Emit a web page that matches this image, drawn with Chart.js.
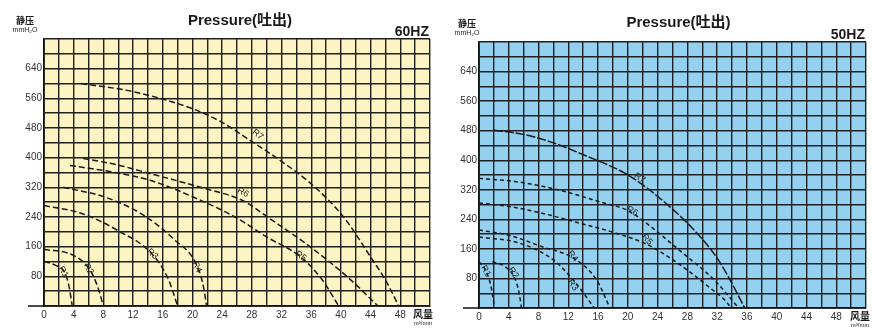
<!DOCTYPE html>
<html>
<head>
<meta charset="utf-8">
<script src="https://cdn.jsdelivr.net/npm/chart.js@4"></script>
<style>
  body { margin: 0; background: #fff; }
  #wrap { position: relative; width: 872px; height: 328px; }
  canvas { position: absolute; top: 0; }
</style>
</head>
<body>
<div id="wrap">
  <canvas id="chart60" width="436" height="328" style="left:0"></canvas>
  <canvas id="chart50" width="436" height="328" style="left:436px"></canvas>
</div>
<script>
// tick labels
const xTickLabels = [0, 4, 8, 12, 16, 20, 24, 28, 32, 36, 40, 44, 48];
const yTickLabels = [80, 160, 240, 320, 400, 480, 560, 640];

// curve names
const curveNames = ['R1', 'R2', 'R3', 'R4', 'R5', 'R6', 'R7'];

// 60HZ curves [flow m3/min, static pressure mmH2O]
const r1_60 = [[0, 120], [1.5, 110], [2.8, 90], [3.4, 50], [3.8, 0]];
const r2_60 = [[0, 153], [3.9, 137], [6.2, 97], [7.3, 48], [8, 0]];
const r3_60 = [[0, 271], [5, 250], [9.9, 204], [14.7, 137], [16.8, 70], [18, 0]];
const r4_60 = [[2.6, 320], [8, 295], [13, 250], [17.5, 180], [20.7, 105], [21.5, 50], [21.9, 0]];
const r5_60 = [[3.5, 379], [9, 362], [14.3, 339], [21.1, 285], [26, 237], [30.1, 185], [34.6, 132], [37.5, 70], [39.7, 0]];
const r6_60 = [[5.3, 398], [10, 380], [14.3, 357], [21.1, 320], [27, 282], [30.1, 240], [35.9, 159], [40.9, 78], [45, 0]];
const r7_60 = [[5, 600], [12, 578], [20, 532], [24, 495], [27.8, 446], [32, 390], [35.9, 331], [40.4, 239], [44, 132], [46, 70], [47.8, 0]];

// 50HZ curves
const r1_50 = [[0, 125], [0.8, 105], [1.6, 60], [2.1, 0]];
const r2_50 = [[1.8, 125], [3.5, 112], [4.7, 85], [5.4, 40], [5.7, 0]];
const r3_50 = [[0, 192], [5.4, 176], [10, 130], [12.7, 75], [15.5, 0]];
const r4_50 = [[0, 211], [4, 197], [8.6, 165], [12.7, 135], [15.8, 76], [17.6, 0]];
const r5_50 = [[0, 284], [4, 275], [8.6, 256], [13.1, 232], [18, 205], [22.6, 172], [25.7, 135], [28.5, 95], [31, 55], [33, 22], [33.9, 0]];
const r6_50 = [[0, 351], [5, 342], [10.8, 319], [16.8, 284], [19.9, 265], [21.8, 240], [27.6, 145], [31.6, 76], [34.9, 0]];
const r7_50 = [[2, 481], [6, 470], [10, 447], [14, 415], [20.1, 359], [25.7, 273], [29.9, 189], [32, 135], [33.6, 81], [35.7, 0]];

// where the R labels sit on each curve (data units) and their tilt
const labelPos60 = [[2.6, 92], [6.0, 100], [14.6, 140], [20.6, 105], [34.6, 134], [26.8, 306], [28.8, 462]];
const labelAngle60 = [60, 60, 45, 65, 35, 28, 38];
const labelPos50 = [[0.9, 100], [4.6, 95], [12.6, 62], [12.6, 140], [22.6, 185], [20.6, 262], [21.6, 352]];
const labelAngle50 = [60, 55, 55, 50, 50, 30, 32];

const decoPlugin = {
  id: 'deco',
  beforeDraw(chart, args, o) {
    const { ctx, chartArea: a } = chart;
    ctx.save();
    ctx.fillStyle = o.bg;
    ctx.fillRect(a.left, a.top, a.right - a.left, a.bottom - a.top);
    ctx.restore();
  },
  afterDraw(chart, args, o) {
    const { ctx, chartArea: a, scales } = chart;
    ctx.save();
    // axis stub on the left of the origin
    ctx.strokeStyle = '#111';
    ctx.lineWidth = 1.5;
    ctx.beginPath();
    ctx.moveTo(a.left - 16, a.bottom);
    ctx.lineTo(a.left, a.bottom);
    ctx.stroke();

    ctx.fillStyle = '#1a1a1a';
    ctx.textAlign = 'center';
    ctx.textBaseline = 'middle';
    ctx.font = 'bold 15px "Liberation Sans", "Noto Sans CJK SC"';
    ctx.fillText('Pressure(吐出)', (a.left + a.right) / 2 + o.titleDx, o.titleY);

    ctx.textAlign = 'right';
    ctx.font = 'bold 14px "Liberation Sans"';
    ctx.fillText(o.hz, a.right - 1, a.top - 7);

    ctx.textAlign = 'center';
    ctx.font = 'bold 9px "Noto Sans CJK SC"';
    ctx.fillText('静压', o.yTitleX, a.top - 18);
    ctx.font = '7px "Liberation Sans"';
    ctx.fillText('mmH₂O', o.yTitleX, a.top - 9);

    ctx.font = 'bold 10px "Noto Sans CJK SC"';
    ctx.fillText('风量', o.xTitleX, a.bottom + 8);
    ctx.font = '6px "Liberation Sans"';
    ctx.fillText('m³/min', o.xTitleX, a.bottom + 17);

    // curve labels
    ctx.font = '9px "Liberation Sans"';
    ctx.fillStyle = '#222';
    o.labelPos.forEach((p, i) => {
      const px = scales.x.getPixelForValue(p[0]);
      const py = scales.y.getPixelForValue(p[1]);
      ctx.save();
      ctx.translate(px, py);
      ctx.rotate(o.labelAngle[i] * Math.PI / 180);
      ctx.fillText(curveNames[i], 0, 0);
      ctx.restore();
    });
    ctx.restore();
  }
};

function makeChart(id, curves, dash, opts) {
  const datasets = curves.map((c, i) => ({
    label: curveNames[i],
    data: c.map(p => ({ x: p[0], y: p[1] })),
    borderColor: '#1a1a1a',
    borderWidth: 1.5,
    borderDash: (i === 6 && opts.r7Dash) ? opts.r7Dash : dash,
    pointRadius: 0,
    tension: 0.4,
    cubicInterpolationMode: 'monotone',
    fill: false
  }));

  return new Chart(document.getElementById(id), {
    type: 'line',
    data: { datasets: datasets },
    options: {
      responsive: false,
      animation: false,
      layout: { padding: { top: opts.top, right: 6, left: 0, bottom: 0 } },
      scales: {
        x: {
          type: 'linear',
          min: 0, max: 52,
          afterFit: s => { s.height = opts.xAxisH; },
          grid: { color: '#202020', lineWidth: 1.4, drawTicks: false },
          border: { color: '#111', width: 1.8 },
          ticks: {
            stepSize: 2, autoSkip: false, maxRotation: 0, padding: 3,
            color: '#333', font: { size: 10, family: 'Liberation Sans' },
            callback: v => xTickLabels.includes(v) ? v : ''
          }
        },
        y: {
          min: 0, max: 720,
          afterFit: s => { s.width = opts.yAxisW; },
          grid: { color: '#202020', lineWidth: 1.4, drawTicks: false },
          border: { color: '#111', width: 1.8 },
          ticks: {
            stepSize: 40, autoSkip: false, padding: 2,
            color: '#333', font: { size: 10, family: 'Liberation Sans' },
            callback: v => yTickLabels.includes(v) ? v : ''
          }
        }
      },
      plugins: {
        legend: { display: false },
        tooltip: { enabled: false },
        deco: {
          bg: opts.bg, hz: opts.hz, titleY: opts.titleY, titleDx: opts.titleDx,
          yTitleX: opts.yTitleX, xTitleX: opts.xTitleX,
          labelPos: opts.labelPos, labelAngle: opts.labelAngle
        }
      }
    },
    plugins: [decoPlugin]
  });
}

makeChart('chart60', [r1_60, r2_60, r3_60, r4_60, r5_60, r6_60, r7_60], [6, 3], {
  top: 39, xAxisH: 22, yAxisW: 44, bg: '#fcf4c2', hz: '60HZ',
  titleY: 21, titleDx: 3, yTitleX: 25, xTitleX: 423,
  labelPos: labelPos60, labelAngle: labelAngle60
});

makeChart('chart50', [r1_50, r2_50, r3_50, r4_50, r5_50, r6_50, r7_50], [4, 3], {
  top: 42, xAxisH: 20, yAxisW: 43, bg: '#94d0ef', hz: '50HZ', r7Dash: [9, 2],
  titleY: 23, titleDx: 6, yTitleX: 31, xTitleX: 424,
  labelPos: labelPos50, labelAngle: labelAngle50
});
</script>
</body>
</html>
